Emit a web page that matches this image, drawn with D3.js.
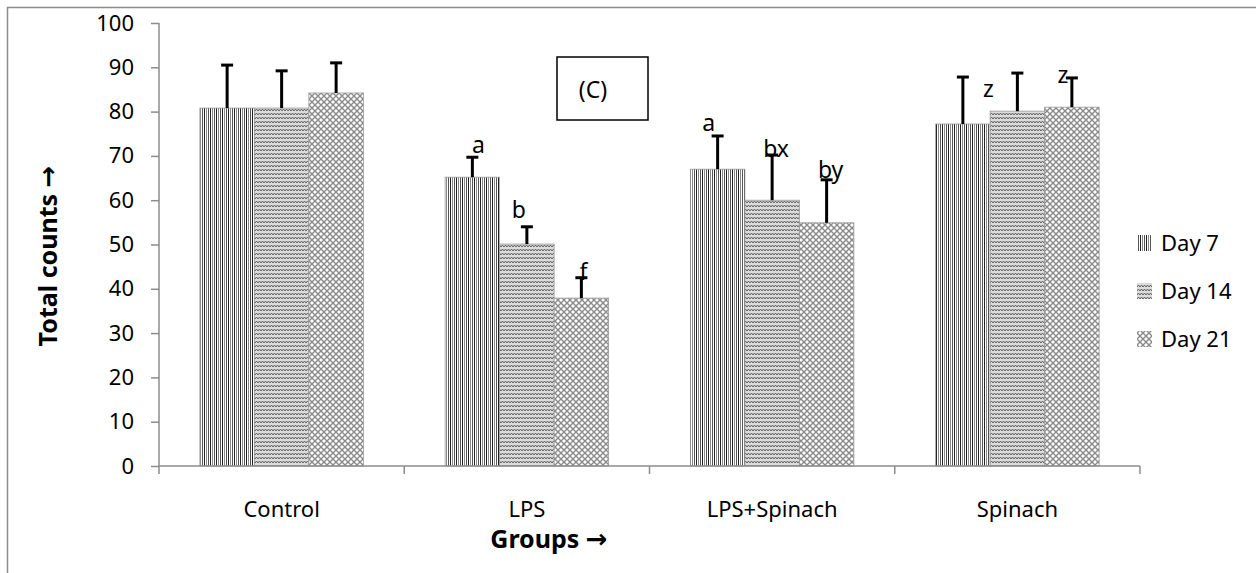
<!DOCTYPE html>
<html>
<head>
<meta charset="utf-8">
<script src="https://cdn.jsdelivr.net/npm/d3@7"></script>
<style>
  body { margin: 0; background: #fff; }
  text { font-family: "Noto Sans", "Open Sans", sans-serif; }
</style>
</head>
<body>
<svg id="chart" width="1256" height="573"></svg>
<script>
// data
var groups = ["Control", "LPS", "LPS+Spinach", "Spinach"];
var seriesNames = ["Day 7", "Day 14", "Day 21"];
var day7  = [80.8, 65.2, 67.0, 77.2];
var day14 = [80.8, 50.1, 60.0, 80.1];
var day21 = [84.2, 37.9, 54.9, 81.0];
var err7  = [9.7, 4.5, 7.5, 10.6];
var err14 = [8.4, 3.9, 10.2, 8.6];
var err21 = [6.8, 4.6, 9.7, 6.6];
var lab7  = ["", "a", "a", ""];
var lab14 = ["", "b", "bx", "z"];
var lab21 = ["", "f", "by", "z"];
var yTicks = [0, 10, 20, 30, 40, 50, 60, 70, 80, 90, 100];

var values = [day7, day14, day21];
var errors = [err7, err14, err21];
var labels = [lab7, lab14, lab21];

// hand placement of the letters, px relative to error cap (like the original)
var labDx = [[0, 6, -9, 0], [0, -8, 4, -29], [0, 2, 4, -9]];
var labDy = [[0, -4, -5, 0], [0, -9, 2, 24], [0, 2, -2, 5]];

var svg = d3.select("#chart");
var plotL = 159, plotR = 1140, plotT = 23, plotB = 466;
var fs = "22px";

// outer frame
svg.append("rect")
  .attr("x", 7.5).attr("y", 7.5)
  .attr("width", 1270).attr("height", 590)
  .attr("fill", "none").attr("stroke", "#8c8c8c").attr("stroke-width", 1.5);

// ---- patterns ----
var defs = svg.append("defs");

var p7 = defs.append("pattern").attr("id", "pat0")
  .attr("patternUnits", "userSpaceOnUse").attr("width", 6).attr("height", 4);
p7.append("rect").attr("width", 6).attr("height", 4).attr("fill", "#fff");
p7.append("rect").attr("x", 0).attr("width", 1).attr("height", 4).attr("fill", "#222");
p7.append("rect").attr("x", 2).attr("width", 1).attr("height", 4).attr("fill", "#888");
p7.append("rect").attr("x", 4).attr("width", 1).attr("height", 4).attr("fill", "#555");

var p14 = defs.append("pattern").attr("id", "pat1")
  .attr("patternUnits", "userSpaceOnUse").attr("width", 6).attr("height", 4);
p14.append("rect").attr("width", 6).attr("height", 4).attr("fill", "#dcdcdc");
p14.append("path").attr("d", "M0,3 L1.5,1 L3,3 L4.5,1 L6,3")
  .attr("fill", "none").attr("stroke", "#555").attr("stroke-width", 0.9);

var p21 = defs.append("pattern").attr("id", "pat2")
  .attr("patternUnits", "userSpaceOnUse").attr("width", 6).attr("height", 6);
p21.append("rect").attr("width", 6).attr("height", 6).attr("fill", "#fff");
p21.append("path").attr("d", "M0,0 L6,6 M6,0 L0,6")
  .attr("fill", "none").attr("stroke", "#8a8a8a").attr("stroke-width", 1.4);

// ---- scales ----
var x = d3.scaleBand().domain(groups).range([plotL, plotR]);
var bw = x.bandwidth() / 4.5;  // Excel gap width 150%
var xs = d3.scaleBand().domain(seriesNames)
  .range([bw * 0.75, x.bandwidth() - bw * 0.75]);
var y = d3.scaleLinear().domain([0, 100]).range([plotB, plotT]);

// ---- bars ----
var flat = [];
seriesNames.forEach(function(s, si) {
  groups.forEach(function(g, gi) {
    flat.push({ g: g, s: s, si: si, gi: gi, v: values[si][gi], e: errors[si][gi], lab: labels[si][gi] });
  });
});

svg.append("g").selectAll("rect")
  .data(flat).enter().append("rect")
  .attr("x", function(d) { return x(d.g) + xs(d.s); })
  .attr("y", function(d) { return y(d.v); })
  .attr("width", xs.bandwidth())
  .attr("height", function(d) { return y(0) - y(d.v); })
  .attr("fill", function(d) { return "url(#pat" + d.si + ")"; })
  .attr("stroke", "#999").attr("stroke-width", 0.8);

// ---- error bars (plus only) ----
var eg = svg.append("g").attr("stroke", "#000").attr("stroke-width", 3);
flat.forEach(function(d) {
  var cx = x(d.g) + xs(d.s) + xs.bandwidth() / 2;
  eg.append("line").attr("x1", cx).attr("x2", cx)
    .attr("y1", y(d.v)).attr("y2", y(d.v + d.e));
  eg.append("line").attr("x1", cx - 6).attr("x2", cx + 6)
    .attr("y1", y(d.v + d.e)).attr("y2", y(d.v + d.e));
});

// ---- letters ----
svg.append("g").selectAll("text")
  .data(flat.filter(function(d) { return d.lab !== ""; }))
  .enter().append("text")
  .attr("x", function(d) { return x(d.g) + xs(d.s) + xs.bandwidth() / 2 + labDx[d.si][d.gi]; })
  .attr("y", function(d) { return y(d.v + d.e) + labDy[d.si][d.gi]; })
  .attr("text-anchor", "middle")
  .attr("font-size", "23px")
  .attr("fill", "#000")
  .text(function(d) { return d.lab; });

// ---- axes ----
var yAxis = svg.append("g").attr("transform", "translate(" + plotL + ",0)")
  .call(d3.axisLeft(y).tickValues(yTicks).tickSize(8).tickPadding(17));
var xAxis = svg.append("g").attr("transform", "translate(0," + plotB + ")")
  .call(d3.axisBottom(x).tickSize(0).tickPadding(35));

[yAxis, xAxis].forEach(function(a) {
  a.select(".domain").attr("stroke", "#8c8c8c").attr("stroke-width", 1.5);
  a.selectAll(".tick line").attr("stroke", "#8c8c8c").attr("stroke-width", 1.5);
  a.selectAll("text").attr("font-family", "Noto Sans, sans-serif")
    .attr("font-size", fs).attr("fill", "#000");
});
yAxis.select(".domain").attr("d", "M0," + plotT + "V" + plotB);
xAxis.select(".domain").attr("d", "M" + plotL + ",0H" + plotR);

// category boundary ticks
var bounds = groups.map(function(g) { return x(g); }).concat([plotR]);
svg.append("g").selectAll("line").data(bounds).enter().append("line")
  .attr("x1", function(d) { return d; }).attr("x2", function(d) { return d; })
  .attr("y1", plotB).attr("y2", plotB + 8)
  .attr("stroke", "#8c8c8c").attr("stroke-width", 1.5);

// ---- titles ----
var yt = svg.append("text")
  .attr("transform", "translate(57,256) rotate(-90)")
  .attr("text-anchor", "middle")
  .attr("font-size", "25px").attr("font-weight", "bold");
yt.append("tspan").text("Total counts ");
yt.append("tspan").attr("font-family", "DejaVu Sans").attr("font-size", "26px").text("\u2192");

var xt = svg.append("text")
  .attr("x", 549).attr("y", 548)
  .attr("text-anchor", "middle")
  .attr("font-size", "25px").attr("font-weight", "bold");
xt.append("tspan").text("Groups ");
xt.append("tspan").attr("font-family", "DejaVu Sans").attr("font-size", "26px").text("\u2192");

// ---- (C) box ----
svg.append("rect")
  .attr("x", 557).attr("y", 57).attr("width", 91).attr("height", 63)
  .attr("fill", "#fff").attr("stroke", "#000").attr("stroke-width", 1.5);
svg.append("text")
  .attr("x", 593).attr("y", 98).attr("text-anchor", "middle")
  .attr("font-size", "23px").text("(C)");

// ---- legend ----
var lg = svg.append("g");
seriesNames.forEach(function(s, i) {
  var yy = 235 + i * 48;
  lg.append("rect").attr("x", 1137).attr("y", yy).attr("width", 15).attr("height", 16)
    .attr("fill", "url(#pat" + i + ")");
  lg.append("text").attr("x", 1161).attr("y", yy + 16)
    .attr("font-size", fs).text(s);
});
</script>
</body>
</html>
